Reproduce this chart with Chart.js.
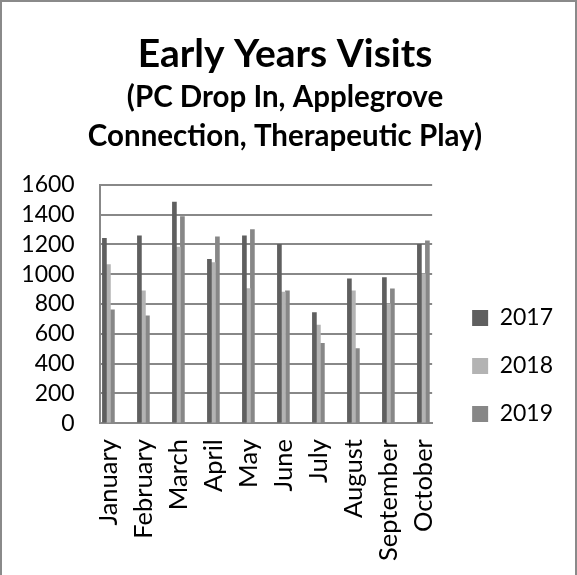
<!DOCTYPE html>
<html>
<head>
<meta charset="utf-8">
<script src="https://cdn.jsdelivr.net/npm/chart.js@4"></script>
<style>
  html, body { margin: 0; padding: 0; background: #fff; }
  #wrap { width: 577px; height: 575px; box-sizing: border-box; border: 2px solid #8a8a8a; border-bottom: none; background: #fff; }
  canvas { display: block; }
</style>
</head>
<body>
<div id="wrap"><canvas id="c" width="573" height="573"></canvas></div>
<script>
const months = ["January","February","March","April","May","June","July","August","September","October"];
const seriesNames = ["2017","2018","2019"];
const v2017 = [1240, 1258, 1484, 1099, 1258, 1200, 742, 969, 977, 1200];
const v2018 = [1065, 888, 1182, 1078, 904, 879, 659, 888, 800, 1002];
const v2019 = [760, 720, 1386, 1251, 1300, 888, 536, 500, 901, 1224];
const yTicks = [0, 200, 400, 600, 800, 1000, 1200, 1400, 1600];
const colors = ["#5f5f5f", "#b3b3b3", "#878787"];

const FONT = "Lato";
const toPoints = arr => arr.map((v, i) => ({ x: i, y: v }));

new Chart(document.getElementById("c"), {
  type: "bar",
  data: {
    datasets: [v2017, v2018, v2019].map((arr, k) => ({
      label: seriesNames[k],
      data: toPoints(arr),
      backgroundColor: colors[k],
      borderWidth: 0,
      barThickness: 4,
      xAxisID: "x",
      yAxisID: "y"
    }))
  },
  options: {
    responsive: false,
    animation: false,
    devicePixelRatio: 1,
    layout: { padding: { left: 5, right: 12, top: 0, bottom: -2 } },
    plugins: {
      title: {
        display: true,
        text: "Early Years Visits",
        color: "#000",
        font: { family: FONT, size: 39, weight: "bold", lineHeight: 1.2 },
        padding: { top: 29, bottom: 0 }
      },
      subtitle: {
        display: true,
        text: ["(PC Drop In, Applegrove", "Connection, Therapeutic Play)"],
        color: "#000",
        font: { family: FONT, size: 29.5, weight: "bold", lineHeight: 1.322 },
        padding: { top: 0, bottom: 29 }
      },
      legend: {
        display: true,
        position: "right",
        align: "start",
        maxWidth: 200,
        title: { display: true, text: " ", font: { size: 10, lineHeight: 1 }, padding: { top: 269.5, bottom: 0 } },
        labels: {
          color: "#000",
          font: { family: FONT, size: 23 },
          boxWidth: 16,
          boxHeight: 16,
          padding: 25
        }
      },
      tooltip: { enabled: false }
    },
    scales: {
      x: {
        type: "linear",
        position: "bottom",
        offset: false,
        min: -0.25,
        max: 9.25,
        afterBuildTicks: scale => { scale.ticks = months.map((m, i) => ({ value: i })); },
        grid: { display: false, drawTicks: false, offset: false },
        border: { display: true, color: "#888", width: 2 },
        ticks: {
          callback: v => months[v],
          autoSkip: false,
          minRotation: 90,
          maxRotation: 90,
          padding: 16,
          color: "#000",
          font: { family: FONT, size: 25.5 }
        }
      },
      y: {
        position: "left",
        min: 0,
        max: 1600,
        afterBuildTicks: scale => { scale.ticks = yTicks.map(v => ({ value: v })); },
        grid: { color: "#888", lineWidth: 2, drawTicks: false },
        border: { display: true, color: "#888", width: 2 },
        ticks: {
          autoSkip: false,
          callback: v => String(v),
          padding: 25,
          color: "#000",
          font: { family: FONT, size: 23 }
        }
      },
      spacer: {
        type: "linear",
        position: "right",
        display: true,
        grid: { display: false, drawTicks: false },
        border: { display: false },
        ticks: { display: false },
        title: { display: true, text: " ", font: { size: 10, lineHeight: 1 }, padding: { top: 2.5, bottom: 2.5 } }
      }
    }
  }
});
</script>
</body>
</html>
